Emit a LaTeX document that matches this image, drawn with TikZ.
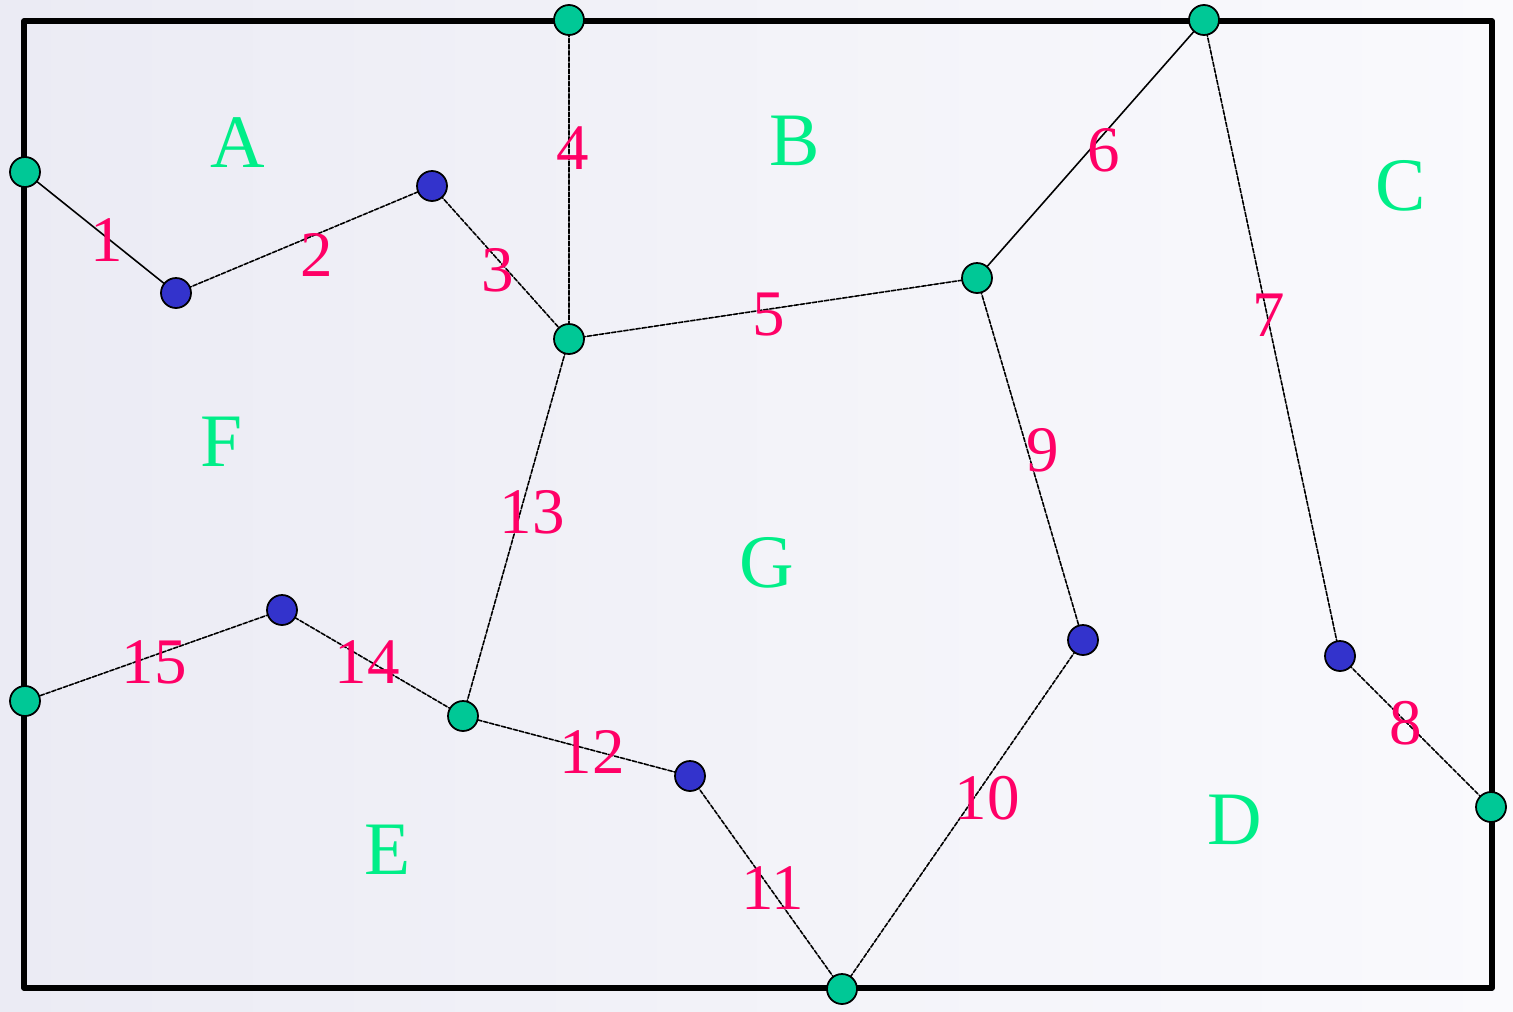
\documentclass[tikz,border=0pt]{standalone}
\usepackage{fontspec}
\setmainfont{Liberation Serif}
\definecolor{vgreen}{HTML}{00C896}
\definecolor{vblue}{HTML}{3333CC}
\definecolor{elabel}{HTML}{FF0066}
\definecolor{rlabel}{HTML}{00EE88}
\definecolor{bgleft}{HTML}{EBEBF4}
\definecolor{bgright}{HTML}{FAFAFD}
\tikzset{
  vert/.style={circle,draw=black,line width=1pt,minimum size=0.6cm,inner sep=0pt},
  gvert/.style={vert,fill=vgreen},
  bvert/.style={vert,fill=vblue},
  edge/.style={line width=0.9pt},
  dedge/.style={edge,dash pattern=on 2.5pt off 1pt},
  num/.style={text=elabel,font=\fontsize{37}{37}\selectfont,inner sep=0pt},
  region/.style={text=rlabel,font=\fontsize{43}{43}\selectfont,inner sep=0pt}
}
\begin{document}
\begin{tikzpicture}[x=0.02cm,y=-0.02cm,line cap=round,line join=round]
  % background
  \shade[left color=bgleft,right color=bgright] (0,0) rectangle (1513,1011);
  \useasboundingbox (0,0) rectangle (1513,1011);
  \draw[line width=3pt] (24,21) rectangle (1492,988);
  % edges first, vertices on top
  \coordinate (g1) at (25,172);
  \coordinate (g2) at (569,20);
  \coordinate (g3) at (1204,20);
  \coordinate (g4) at (569,339);
  \coordinate (g5) at (977,278);
  \coordinate (g6) at (25,701);
  \coordinate (g7) at (463,716);
  \coordinate (g8) at (842,989);
  \coordinate (g9) at (1491,807);
  \coordinate (b1) at (176,293);
  \coordinate (b2) at (432,186);
  \coordinate (b3) at (282,610);
  \coordinate (b4) at (690,776);
  \coordinate (b5) at (1083,640);
  \coordinate (b6) at (1340,656);
  \draw[edge] (g1) -- (b1);
  \draw[edge] (g5) -- (g3);
  \foreach \a/\b in {b1/b2,b2/g4,g2/g4,g4/g5,g3/b6,b6/g9,g5/b5,b5/g8,g8/b4,b4/g7,g7/g4,g7/b3,b3/g6}
    \draw[dedge] (\a) -- (\b);
  % vertices
  \foreach \v in {g1,g2,g3,g4,g5,g6,g7,g8,g9}
    \node[gvert] (n\v) at (\v) {};
  \foreach \v in {b1,b2,b3,b4,b5,b6}
    \node[bvert] (n\v) at (\v) {};
  % edge numbers
  \foreach \t/\x/\y in {1/107/240,2/317/255,3/498/270,4/573/148,5/769/315,6/1104/150,7/1269/315,
      8/1406/723,9/1043/450,10/987/798,11/773/888,12/592/752,13/532/512,14/367/662,15/154/662}
    \node[num] (e\t) at (\x,\y) {\t};
  % regions
  \foreach \r/\x/\y in {A/238/143,B/795/141,C/1401/186,D/1235/820,E/388/850,F/222/442,G/767/563}
    \node[region] (r\r) at (\x,\y) {\r};
\end{tikzpicture}
\end{document}
